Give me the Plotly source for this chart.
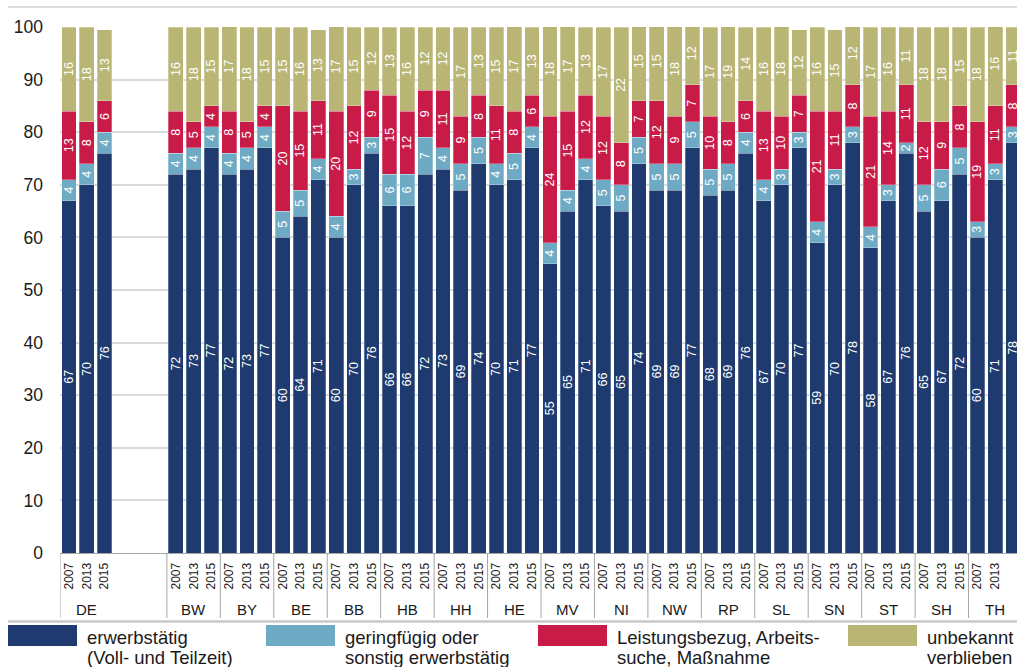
import plotly.graph_objects as go

# ---------------- data ----------------
groups = ["DE", "BW", "BY", "BE", "BB", "HB", "HH", "HE", "MV", "NI",
          "NW", "RP", "SL", "SN", "ST", "SH", "TH"]
years = ["2007", "2013", "2015"]

erwerbstaetig = [67, 70, 76, 72, 73, 77, 72, 73, 77, 60, 64, 71, 60, 70, 76,
                 66, 66, 72, 73, 69, 74, 70, 71, 77, 55, 65, 71, 66, 65, 74,
                 69, 69, 77, 68, 69, 76, 67, 70, 77, 59, 70, 78, 58, 67, 76,
                 65, 67, 72, 60, 71, 78]
geringfuegig = [4, 4, 4, 4, 4, 4, 4, 4, 4, 5, 5, 4, 4, 3, 3,
                6, 6, 7, 4, 5, 5, 4, 5, 4, 4, 4, 4, 5, 5, 5,
                5, 5, 5, 5, 5, 4, 4, 3, 3, 4, 3, 3, 4, 3, 2,
                5, 6, 5, 3, 3, 3]
leistung = [13, 8, 6, 8, 5, 4, 8, 5, 4, 20, 15, 11, 20, 12, 9,
            15, 12, 9, 11, 9, 8, 11, 8, 6, 24, 15, 12, 12, 8, 7,
            12, 9, 7, 10, 8, 6, 13, 10, 7, 21, 11, 8, 21, 14, 11,
            12, 9, 8, 19, 11, 8]
unbekannt = [16, 18, 13.49, 16, 18, 15, 17, 18, 15, 15, 16, 13.49, 17, 15, 12,
             13, 16, 12, 12, 17, 13, 15, 17, 13, 18, 17, 13, 17, 22, 15,
             15, 18, 12, 17, 19, 14, 16, 18, 12.49, 16, 15.49, 12, 17, 16, 11,
             18, 18, 15, 18, 16, 11]

series_lines = [("erwerbstätig", "(Voll- und Teilzeit)"),
                ("geringfügig oder", "sonstig erwerbstätig"),
                ("Leistungsbezug, Arbeits-", "suche, Maßnahme"),
                ("unbekannt", "verblieben")]
series_values = [erwerbstaetig, geringfuegig, leistung, unbekannt]
colors = ["#1e3a6e", "#6eaac4", "#c81b47", "#b9b575"]

# x positions: DE at 0..2, three empty slots, then states
xpos = []
for gi, g in enumerate(groups):
    base = 0 if gi == 0 else 6 + 3 * (gi - 1)
    for yi in range(3):
        xpos.append(base + yi)
year_labels = years * len(groups)

FONT = "Liberation Sans, Arial, sans-serif"
W, H = 1017, 667
L, R, T, B = 60, 0, 27, 114
PW, PH = W - L - R, H - T - B


def px(xp):
    return (xp - L) / PW


def py(yp):
    return (H - B - yp) / PH


fig = go.Figure()
for lines, vals, col in zip(series_lines, series_values, colors):
    name = " ".join(lines)
    fig.add_trace(go.Bar(
        x=xpos, y=vals, name=name,
        marker=dict(color=col, line=dict(color="rgba(255,255,255,0.45)", width=0.6)),
        text=[f"{round(v)}" for v in vals],
        textposition="inside", insidetextanchor="middle", textangle=-90,
        constraintext="none",
        textfont=dict(color="white", size=12.5, family=FONT),
        showlegend=False,
        hovertemplate="%{y}<extra>" + name + "</extra>",
    ))

shapes = []
annotations = []

# group separators and labels
sep_positions = [-0.5] + [5.5 + 3 * k for k in range(len(groups) - 1)]
for s in sep_positions:
    shapes.append(dict(type="line", xref="x", yref="paper", x0=s, x1=s,
                       y0=0, y1=py(618), line=dict(color="#a6a6a6", width=1)))
for gi, g in enumerate(groups):
    base = 0 if gi == 0 else 6 + 3 * (gi - 1)
    annotations.append(dict(x=base + 1, y=py(609), xref="x", yref="paper",
                            yanchor="middle", xanchor="center",
                            text=g, showarrow=False,
                            font=dict(size=15, color="#1a1a1a", family=FONT)))

# top and bottom frame lines
shapes.append(dict(type="line", xref="paper", yref="paper", x0=px(8), x1=1.0,
                   y0=py(7), y1=py(7), line=dict(color="#cfcfcf", width=1.5)))
shapes.append(dict(type="line", xref="paper", yref="paper", x0=px(8), x1=1.0,
                   y0=py(621.5), y1=py(621.5), line=dict(color="#c8c8c8", width=2.5)))

# custom legend
leg_x = [8, 266, 538, 848]
for lines, col, lx in zip(series_lines, colors, leg_x):
    shapes.append(dict(type="rect", xref="paper", yref="paper",
                       x0=px(lx), x1=px(lx + 69), y0=py(646), y1=py(625),
                       fillcolor=col, line=dict(width=0)))
    for li, (txt, yc) in enumerate(zip(lines, (637.5, 657))):
        annotations.append(dict(x=px(lx + 77), y=py(yc), xref="paper", yref="paper",
                                text=txt, showarrow=False, xanchor="left",
                                yanchor="middle", align="left",
                                font=dict(size=18.5, color="#1a1a1a", family=FONT)))

fig.update_layout(
    width=W, height=H,
    margin=dict(l=L, r=R, t=T, b=B, pad=0),
    barmode="stack", bargap=0.17,
    plot_bgcolor="white", paper_bgcolor="white",
    font=dict(family=FONT, color="#1a1a1a"),
    shapes=shapes, annotations=annotations,
    xaxis=dict(range=[-0.5, 53.22], tickmode="array", tickvals=xpos,
               ticktext=year_labels, tickangle=-90, ticks="",
               ticklabelstandoff=4,
               tickfont=dict(size=12, color="#1a1a1a", family=FONT),
               showgrid=False, zeroline=False, showline=True,
               linecolor="#a6a6a6", linewidth=1),
    yaxis=dict(range=[0, 100], tickvals=list(range(0, 101, 10)),
               ticks="", ticklabelstandoff=16,
               tickfont=dict(size=17.5, color="#1a1a1a", family=FONT),
               showgrid=True, gridcolor="#d9d9d9", gridwidth=1.5,
               zeroline=False, showline=False),
)

fig.write_html("out.html",
               config={"displayModeBar": False},
               post_script="document.body.style.margin='0';"
                           "document.body.style.overflow='hidden';")
